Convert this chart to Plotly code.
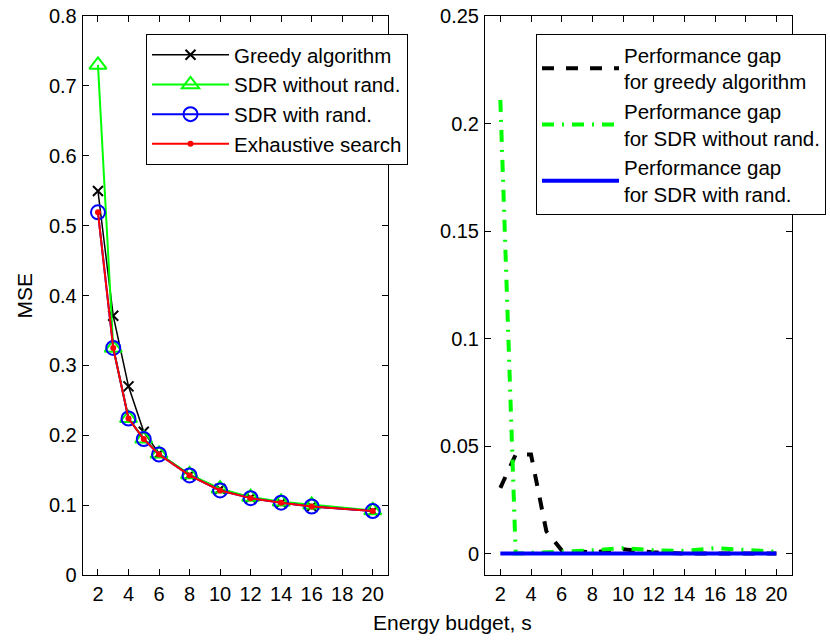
import plotly.graph_objects as go

# Energy budget values (x axis)
budget = [2, 3, 4, 5, 6, 8, 10, 12, 14, 16, 20]

# MSE of each scheme
mse_greedy = [0.5495, 0.371, 0.270, 0.2049, 0.174, 0.143, 0.123, 0.1105, 0.1035, 0.098, 0.0915]
mse_sdr_norand = [0.730, 0.325, 0.2243, 0.195, 0.1735, 0.144, 0.1235, 0.1115, 0.1047, 0.1005, 0.0923]
mse_sdr_rand = [0.519, 0.325, 0.224, 0.1945, 0.1725, 0.1425, 0.121, 0.110, 0.1035, 0.098, 0.0915]
mse_exhaustive = [0.519, 0.325, 0.224, 0.1945, 0.1725, 0.1425, 0.121, 0.110, 0.1035, 0.098, 0.0915]

x_ticks = [2, 4, 6, 8, 10, 12, 14, 16, 18, 20]
left_y_ticks = [0, 0.1, 0.2, 0.3, 0.4, 0.5, 0.6, 0.7, 0.8]
right_y_ticks = [0, 0.05, 0.1, 0.15, 0.2, 0.25]

# Performance gaps relative to exhaustive search
gap_greedy = [g - e for g, e in zip(mse_greedy, mse_exhaustive)]
gap_sdr_norand = [s - e for s, e in zip(mse_sdr_norand, mse_exhaustive)]
gap_sdr_rand = [s - e for s, e in zip(mse_sdr_rand, mse_exhaustive)]

FONT = "Liberation Sans, Arial, sans-serif"
W, H = 830, 641
GREEN = "#00FF00"
BLUE = "#0000FF"
RED = "#FF0000"

fig = go.Figure()

# Left panel: MSE curves
fig.add_trace(go.Scatter(
    x=budget, y=mse_greedy, name="Greedy algorithm", mode="lines+markers",
    line=dict(color="black", width=1.5),
    marker=dict(symbol="x-thin", size=10, line=dict(color="black", width=2)),
    xaxis="x", yaxis="y", legend="legend"))
fig.add_trace(go.Scatter(
    x=budget, y=mse_sdr_norand, name="SDR without rand.", mode="lines+markers",
    line=dict(color=GREEN, width=2),
    marker=dict(symbol="triangle-up-open", size=15, color=GREEN, line=dict(color=GREEN, width=2)),
    xaxis="x", yaxis="y", legend="legend"))
fig.add_trace(go.Scatter(
    x=budget, y=mse_sdr_rand, name="SDR with rand.", mode="lines+markers",
    line=dict(color=BLUE, width=2),
    marker=dict(symbol="circle-open", size=14, color=BLUE, line=dict(color=BLUE, width=2)),
    xaxis="x", yaxis="y", legend="legend"))
fig.add_trace(go.Scatter(
    x=budget, y=mse_exhaustive, name="Exhaustive search", mode="lines+markers",
    line=dict(color=RED, width=2),
    marker=dict(symbol="circle", size=6, color=RED),
    xaxis="x", yaxis="y", legend="legend"))

# Right panel: performance gaps
fig.add_trace(go.Scatter(
    x=budget, y=gap_greedy, name="Performance gap<br>for greedy algorithm", mode="lines",
    line=dict(color="black", width=4, dash="12px,12px"),
    xaxis="x2", yaxis="y2", legend="legend2"))
fig.add_trace(go.Scatter(
    x=budget, y=gap_sdr_norand, name="Performance gap<br>for SDR without rand.", mode="lines",
    line=dict(color=GREEN, width=4, dash="12px,8px,2px,8px"),
    xaxis="x2", yaxis="y2", legend="legend2"))
fig.add_trace(go.Scatter(
    x=budget, y=gap_sdr_rand, name="Performance gap<br>for SDR with rand.", mode="lines",
    line=dict(color=BLUE, width=4),
    xaxis="x2", yaxis="y2", legend="legend2"))

axis_common = dict(
    showline=True, linecolor="black", linewidth=1, mirror="ticks",
    ticks="inside", ticklen=6, tickcolor="black", tickwidth=1,
    showgrid=False, zeroline=False, automargin=False,
    tickfont=dict(family=FONT, size=20, color="black"),
)

y_bot = 1 - 575 / H
y_top = 1 - 16 / H

legend_common = dict(
    y=1 - 34 / H, xanchor="left", yanchor="top",
    bgcolor="white", bordercolor="black", borderwidth=1,
    font=dict(family=FONT, size=20.5, color="black"),
    itemwidth=77, traceorder="normal",
)

fig.update_layout(
    width=W, height=H,
    margin=dict(l=0, r=0, t=0, b=0),
    paper_bgcolor="white", plot_bgcolor="white",
    font=dict(family=FONT, size=20, color="black"),
    xaxis=dict(domain=[82.7 / W, 388 / W], range=[1, 21], tickvals=x_ticks,
               anchor="y", ticklabelstandoff=1, **axis_common),
    yaxis=dict(domain=[y_bot, y_top], range=[0, 0.8], tickvals=left_y_ticks,
               anchor="x", ticklabelstandoff=1, **axis_common),
    xaxis2=dict(domain=[485 / W, 791.7 / W], range=[1, 21], tickvals=x_ticks,
                anchor="y2", ticklabelstandoff=1, **axis_common),
    yaxis2=dict(domain=[y_bot, y_top], range=[-0.01, 0.25], tickvals=right_y_ticks,
                anchor="x2", ticklabelstandoff=1, **axis_common),
    legend=dict(x=146 / W, **legend_common),
    legend2=dict(x=536 / W, **legend_common),
    annotations=[
        dict(text="Energy budget, s", x=452.5 / W, y=(H - 622) / H, xref="paper", yref="paper",
             xanchor="center", yanchor="middle", showarrow=False,
             font=dict(family=FONT, size=21, color="black")),
        dict(text="MSE", x=24 / W, y=(H - 295.5) / H, xref="paper", yref="paper",
             xanchor="center", yanchor="middle", showarrow=False, textangle=-90,
             font=dict(family=FONT, size=21, color="black")),
    ],
)

fig.write_html("out.html")
